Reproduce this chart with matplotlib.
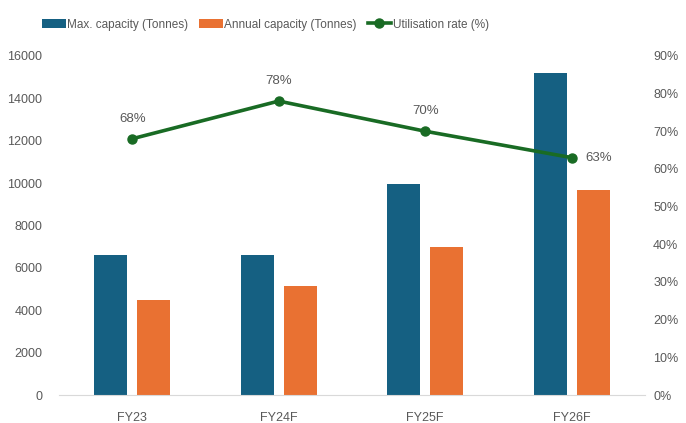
import numpy as np
import matplotlib.pyplot as plt

plt.rcParams['font.family'] = ['Liberation Sans', 'DejaVu Sans']

years = ['FY23', 'FY24F', 'FY25F', 'FY26F']
max_capacity = [6620, 6620, 9950, 15200]
annual_capacity = [4480, 5160, 6970, 9650]
utilisation = [68, 78, 70, 63]

blue = '#156082'
orange = '#E97132'
green = '#196B24'
grey = '#595959'

fig = plt.figure(figsize=(6.86, 4.23), dpi=100)
ax = fig.add_axes([0.086, 0.066, 0.854, 0.802])
ax2 = ax.twinx()

x = np.arange(len(years))
w = 0.225
ax.bar(x - 0.147, max_capacity, w, color=blue, label='Max. capacity (Tonnes)', zorder=2)
ax.bar(x + 0.147, annual_capacity, w, color=orange, label='Annual capacity (Tonnes)', zorder=2)

ax.set_xlim(-0.5, 3.5)
ax.set_ylim(0, 16000)
ax.set_yticks(range(0, 16001, 2000))
ax.set_xticks(x)
ax.set_xticklabels(years)

ax2.plot(x, utilisation, color=green, lw=2.6, marker='o', ms=6.5, label='Utilisation rate (%)', zorder=3)
ax2.set_ylim(0, 90)
ax2.set_yticks(range(0, 91, 10))
ax2.set_yticklabels([f'{v}%' for v in range(0, 91, 10)])

for i, v in enumerate(utilisation):
    if i == len(utilisation) - 1:
        ax2.annotate(f'{v}%', (x[i], v), xytext=(10, 0), textcoords='offset points',
                     ha='left', va='center', color=grey, fontsize=9.5)
    else:
        ax2.annotate(f'{v}%', (x[i], v), xytext=(0, 10), textcoords='offset points',
                     ha='center', va='bottom', color=grey, fontsize=9.5)

for a in (ax, ax2):
    for s in a.spines.values():
        s.set_visible(False)
    a.tick_params(length=0, colors=grey, labelsize=9)
ax.spines['bottom'].set_visible(True)
ax.spines['bottom'].set_color('#D9D9D9')
ax.tick_params(axis='y', pad=12)
ax.tick_params(axis='x', pad=12)
ax2.tick_params(axis='y', pad=6)

h1, l1 = ax.get_legend_handles_labels()
h2, l2 = ax2.get_legend_handles_labels()
fig.legend(h1 + h2, l1 + l2, loc='center', bbox_to_anchor=(0.387, 0.942), ncol=3,
           frameon=False, fontsize=8.5, labelcolor=grey, handlelength=2.0,
           handletextpad=0.15, columnspacing=0.9)

fig.savefig('out.png', dpi=100)
